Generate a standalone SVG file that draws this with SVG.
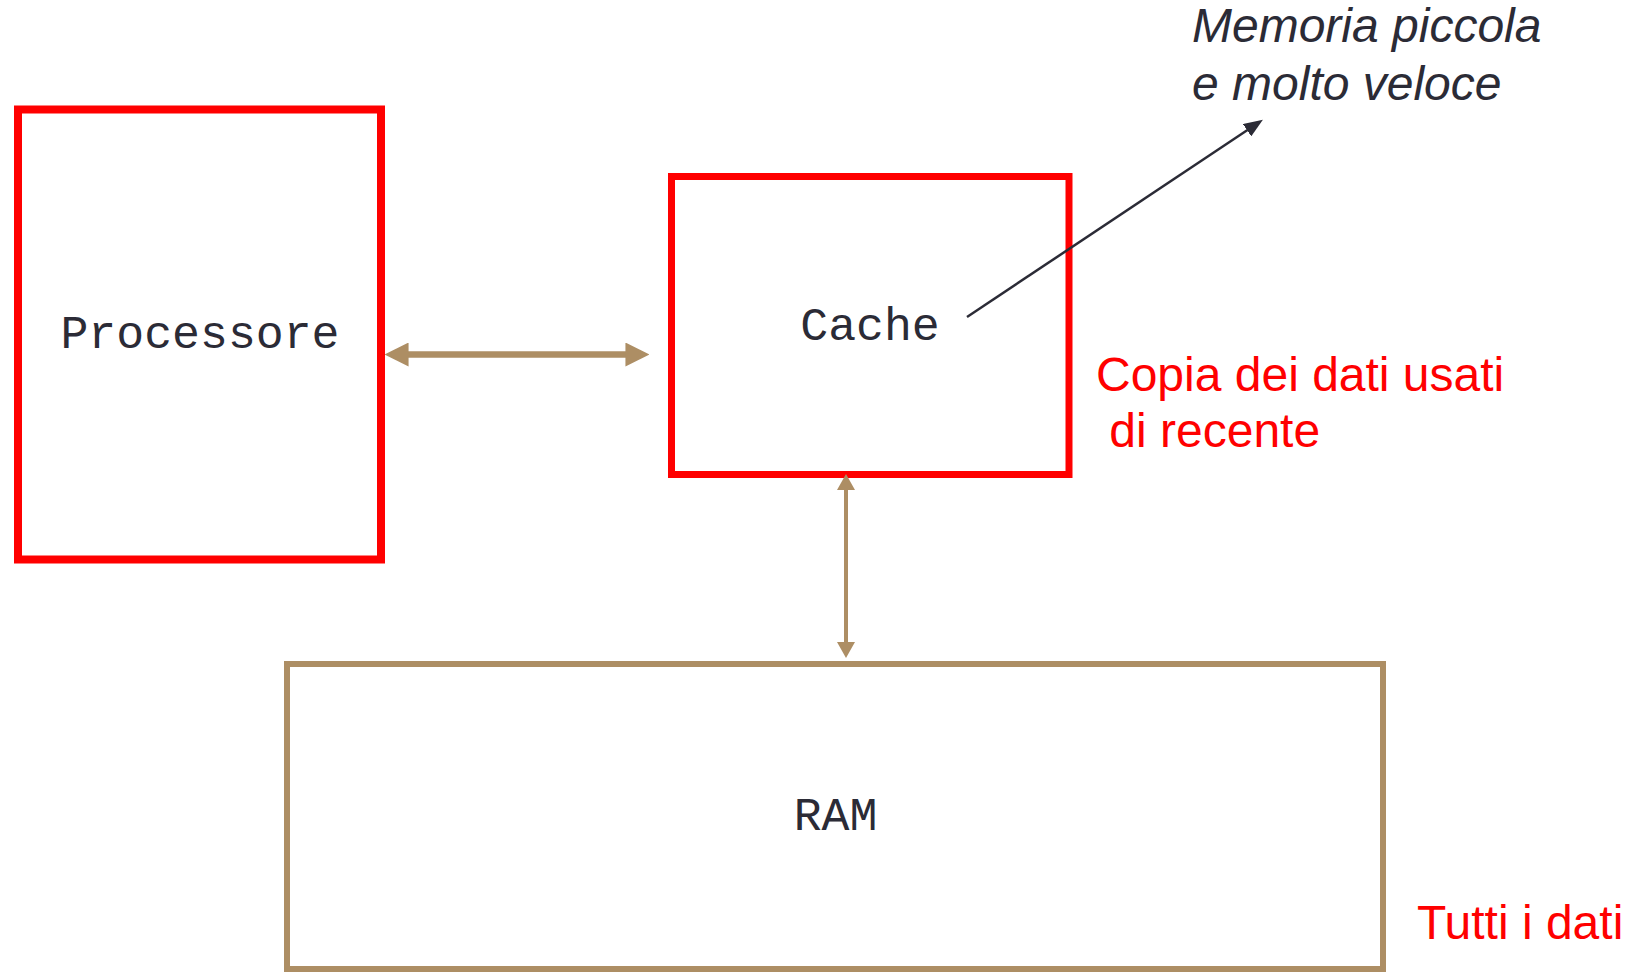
<svg xmlns="http://www.w3.org/2000/svg" width="1639" height="972" viewBox="0 0 1639 972">
  <style>
    .red { fill: #ffffff; stroke: #ff0000; }
    .tan { fill: #ffffff; stroke: #ad8e64; }
    .mono { font-family: "Liberation Mono", "Courier New", monospace; font-size: 46.5px; fill: #2b2b36; text-anchor: middle; }
    .note { font-family: "Liberation Sans", Arial, sans-serif; font-size: 48px; }
    .redtxt { fill: #ff0000; }
    .darktxt { fill: #2b2b36; font-style: italic; }
    .conn-tan { stroke: #ad8e64; fill: none; }
    .conn-dark { stroke: #2b2b36; fill: none; stroke-width: 2.5; }
  </style>
  <defs>
    <marker id="headBig" markerUnits="userSpaceOnUse" markerWidth="24" markerHeight="24" viewBox="0 0 23 23" refX="13" refY="11.5" orient="auto-start-reverse">
      <path d="M0,0 L23,11.5 L0,23 z" fill="#ad8e64"/>
    </marker>
    <marker id="headSmall" markerUnits="userSpaceOnUse" markerWidth="18" markerHeight="18" viewBox="0 0 16 18" refX="8" refY="9" orient="auto-start-reverse">
      <path d="M0,0 L16,9 L0,18 z" fill="#ad8e64"/>
    </marker>
    <marker id="headDark" markerUnits="userSpaceOnUse" markerWidth="19" markerHeight="15" viewBox="0 0 18 14" refX="9" refY="7" orient="auto">
      <path d="M0,0 L18,7 L0,14 z" fill="#2b2b36"/>
    </marker>
  </defs>
  <rect width="1639" height="972" fill="#ffffff"/>

  <g id="processore">
    <rect class="red" x="18" y="109.5" width="363" height="450" stroke-width="8"/>
    <text class="mono" x="200" y="348">Processore</text>
  </g>

  <g id="cache">
    <rect class="red" x="671.5" y="176.5" width="397.5" height="298" stroke-width="7"/>
    <text class="mono" x="870" y="340">Cache</text>
  </g>

  <g id="ram">
    <rect class="tan" x="287" y="664" width="1096" height="305" stroke-width="6"/>
    <text class="mono" x="835.5" y="830">RAM</text>
  </g>

  <g id="note-memoria">
    <text class="note darktxt" x="1192" y="42">Memoria piccola</text>
    <text class="note darktxt" x="1192" y="100">e molto veloce</text>
  </g>

  <g id="note-copia">
    <text class="note redtxt" x="1096" y="390.5">Copia dei dati usati</text>
    <text class="note redtxt" x="1096" y="446.5" xml:space="preserve"> di recente</text>
  </g>

  <g id="note-tutti">
    <text class="note redtxt" x="1417" y="939">Tutti i dati</text>
  </g>

  <g id="connectors">
    <line class="conn-tan" x1="395" y1="354.5" x2="639" y2="354.5" stroke-width="6.7" marker-start="url(#headBig)" marker-end="url(#headBig)"/>
    <line class="conn-tan" x1="846" y1="482" x2="846" y2="650" stroke-width="4" marker-start="url(#headSmall)" marker-end="url(#headSmall)"/>
    <line class="conn-dark" x1="967" y1="317" x2="1255" y2="125" marker-end="url(#headDark)"/>
  </g>
</svg>
